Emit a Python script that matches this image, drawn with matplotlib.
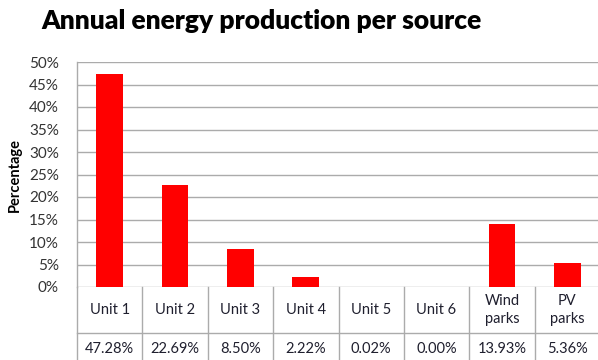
import matplotlib
matplotlib.use("Agg")
import matplotlib.pyplot as plt
import matplotlib.transforms as mtransforms

# data
sources = ["Unit 1", "Unit 2", "Unit 3", "Unit 4", "Unit 5", "Unit 6", "Wind\nparks", "PV\nparks"]
shares = [47.28, 22.69, 8.50, 2.22, 0.02, 0.00, 13.93, 5.36]
yticks = [0, 5, 10, 15, 20, 25, 30, 35, 40, 45, 50]

plt.rcParams['font.family'] = ['Lato', 'DejaVu Sans']
grid_col = '#ababab'

fig = plt.figure(figsize=(5.98, 3.6), dpi=100)
ax = fig.add_axes([77 / 598, 1 - 287 / 360, 523 / 598, 225 / 360])

x = list(range(len(sources)))
ax.bar(x, shares, width=0.41, color='#ff0000', zorder=3)

ax.set_xlim(-0.5, len(sources) - 0.5)
ax.set_ylim(0, 50)
ax.set_yticks(yticks)
ax.set_yticklabels([f"{v}%" for v in yticks], fontsize=11, color='#333333')
ax.tick_params(axis='y', length=0, pad=13)
ax.set_xticks([])
ax.grid(axis='y', color=grid_col, linewidth=1, zorder=0)
for s in ['top', 'right', 'bottom']:
    ax.spines[s].set_visible(False)
ax.spines['left'].set_color(grid_col)
ax.spines['left'].set_linewidth(1)

ax.set_ylabel("Percentage", fontsize=10.5, fontweight='bold')
ax.yaxis.set_label_coords(-55 / 523, 0.5)

# data table below the axis
trans = mtransforms.blended_transform_factory(ax.transData, ax.transAxes)
row1 = -46 / 225
row2 = -78 / 225
for i in range(len(sources) + 1):
    ax.plot([i - 0.5, i - 0.5], [0, row2], transform=trans, color=grid_col,
            lw=1, clip_on=False)
ax.plot([-0.5, len(sources) - 0.5], [row1, row1], transform=trans,
        color=grid_col, lw=1, clip_on=False)
ax.plot([-0.5, len(sources) - 0.5], [row2, row2], transform=trans,
        color=grid_col, lw=1, clip_on=False)
for i, (name, val) in enumerate(zip(sources, shares)):
    ax.text(i, -23 / 225, name, transform=trans, ha='center', va='center',
            fontsize=10.5, color='#1f1f2e', linespacing=1.35)
    ax.text(i, -62 / 225, f"{val:.2f}%", transform=trans, ha='center',
            va='center', fontsize=10.5, color='#1f1f2e')

fig.text(261 / 598, 1 - 21 / 360, "Annual energy production per source",
         ha='center', va='center', fontsize=19, fontweight='heavy')

fig.savefig("out.png", dpi=100)
